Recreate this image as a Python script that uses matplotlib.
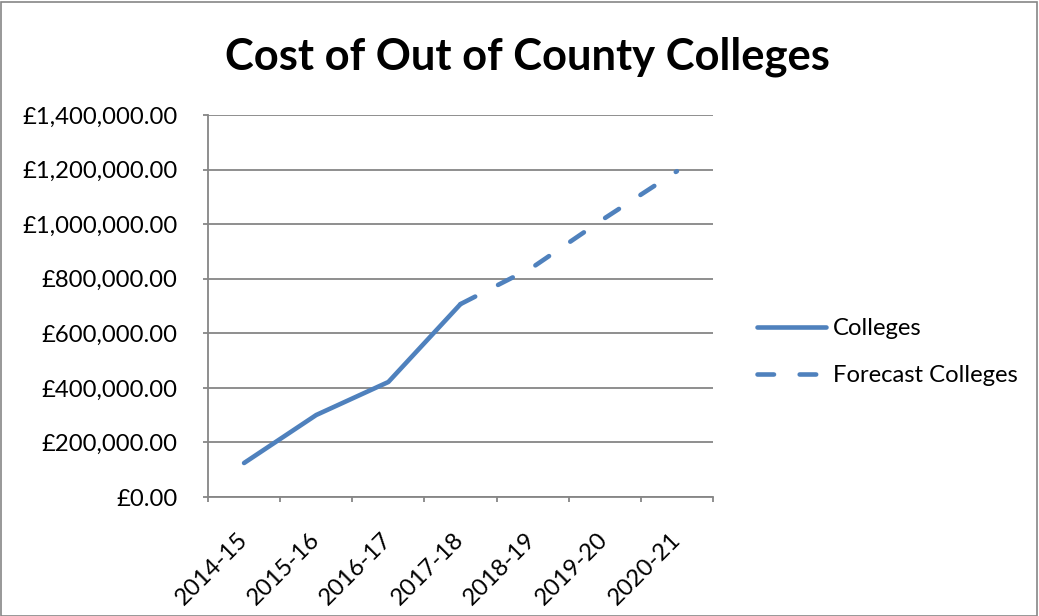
import matplotlib
matplotlib.use("Agg")
import matplotlib.pyplot as plt
from matplotlib.patches import Rectangle
from matplotlib.ticker import FuncFormatter, FixedLocator
import numpy as np

categories = ['2014-15', '2015-16', '2016-17', '2017-18', '2018-19', '2019-20', '2020-21']
colleges = [124600, 300500, 421500, 707000, None, None, None]
forecast = [None, None, None, 707000, 842000, 1022000, 1194000]
y_ticks = [0, 200000, 400000, 600000, 800000, 1000000, 1200000, 1400000]

plt.rcParams['font.family'] = ['Lato', 'DejaVu Sans']

W, H = 1039, 616
fig = plt.figure(figsize=(W / 100, H / 100), dpi=100)
fig.patch.set_facecolor('white')
fig.add_artist(Rectangle((1 / W, 0.5 / H), (W - 3) / W, (H - 2) / H, transform=fig.transFigure,
                         fill=False, edgecolor='#868686', linewidth=1.2))

ax = fig.add_axes([208 / W, 1 - 497 / H, (713 - 208) / W, (497 - 115) / H])
n = len(categories)
x = np.arange(n)

blue = '#4F81BD'
grid = '#868686'
fs = 17.2

xc = [i for i, v in enumerate(colleges) if v is not None]
yc = [colleges[i] for i in xc]
xf = [i for i, v in enumerate(forecast) if v is not None]
yf = [forecast[i] for i in xf]

ax.plot(xc, yc, color=blue, lw=3.3, solid_capstyle='round', solid_joinstyle='round',
        label='Colleges', zorder=3)
ax.plot(xf, yf, color=blue, lw=3.3, linestyle=(0, (3.6, 5.6)), dash_capstyle='round',
        label='Forecast Colleges', zorder=3)

ax.set_xlim(-0.5, n - 0.5)
ax.set_ylim(0, 1400000)

ax.yaxis.set_major_locator(FixedLocator(y_ticks))
ax.yaxis.set_major_formatter(FuncFormatter(lambda v, p: '£{:,.2f}'.format(v)))
ax.grid(axis='y', color=grid, linewidth=1.3, zorder=0)
ax.set_axisbelow(True)

ax.set_xticks(np.arange(n + 1) - 0.5)
ax.set_xticklabels([])
ax.set_xticks(x, minor=True)
ax.set_xticklabels(categories, minor=True, rotation=45, ha='right', va='center',
                   rotation_mode='anchor', fontsize=fs)
ax.tick_params(axis='x', which='minor', length=0, pad=28)
ax.tick_params(axis='x', which='major', length=3.6, color=grid, width=1.3, direction='out')
ax.tick_params(axis='y', length=3.6, color=grid, width=1.3, direction='out', labelsize=fs, pad=18.5)

for s in ['top', 'right']:
    ax.spines[s].set_visible(False)
for s in ['left', 'bottom']:
    ax.spines[s].set_color(grid)
    ax.spines[s].set_linewidth(1.3)

fig.text(527 / W, 1 - 57 / H, 'Cost of Out of County Colleges', ha='center', va='center',
         fontsize=31.3, fontweight='bold')

leg = ax.legend(loc='center left', bbox_to_anchor=(735 / W, 1 - 352 / H),
                bbox_transform=fig.transFigure, frameon=False, fontsize=fs,
                handlelength=2.9, handletextpad=0.3, labelspacing=1.1)

fig.savefig('out.png', dpi=100, facecolor='white')
